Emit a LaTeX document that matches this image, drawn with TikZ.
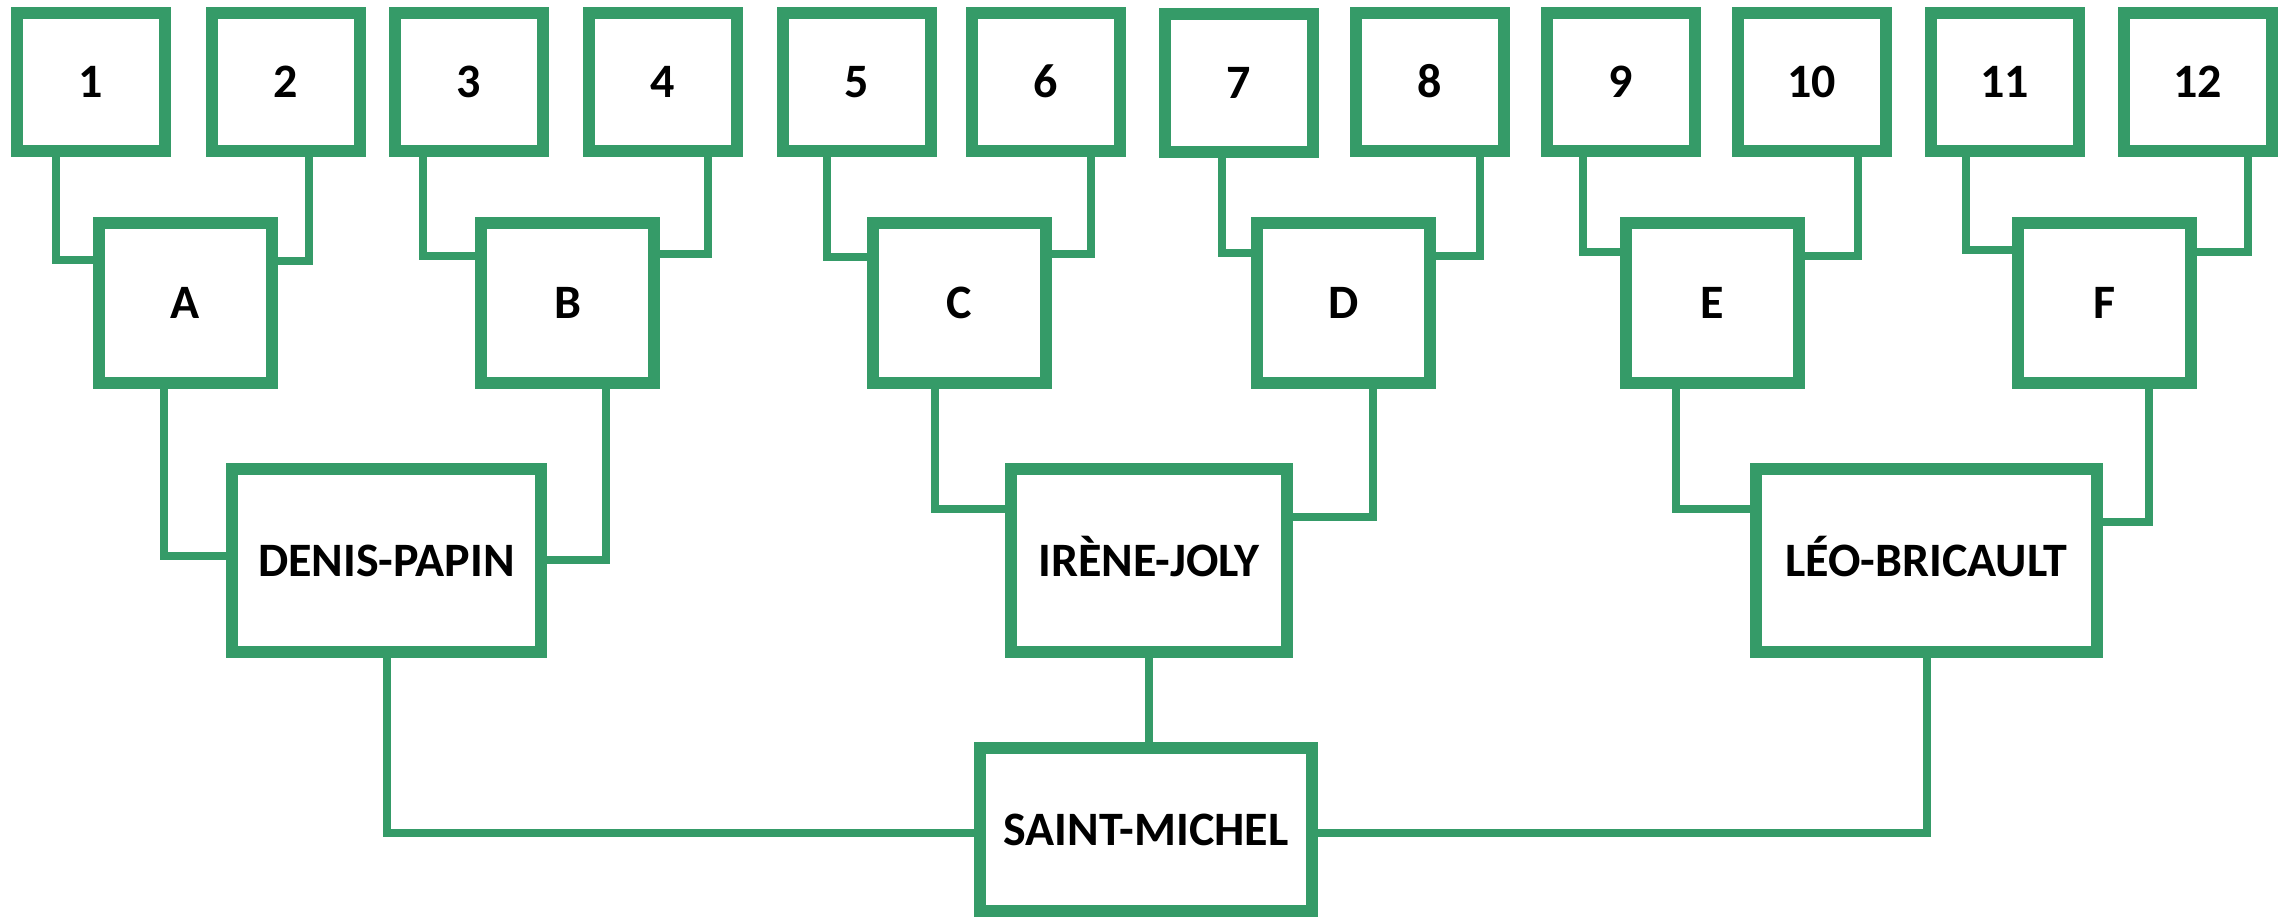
\documentclass[tikz,border=0pt]{standalone}
\usepackage{fontspec}
\setmainfont{Carlito}
\usetikzlibrary{backgrounds}
\definecolor{grn}{RGB}{53,155,104}
\begin{document}
\begin{tikzpicture}[x=0.5pt,y=-0.5pt,
  box/.style={draw=grn,line width=6pt,fill=white,inner sep=0pt,outer sep=0pt,
    font=\fontsize{24}{28}\selectfont\bfseries,text height=15.5pt,text depth=0pt},
  topbox/.style={box,minimum width=74pt,minimum height=69pt},
  midbox/.style={box,minimum width=86.5pt,minimum height=80pt},
  conn/.style={draw=grn,line width=4pt}]
\useasboundingbox (0,0) rectangle (2288,921);
% top row
\node[topbox] (n1) at (91,82) {1};
\node[topbox] (n2) at (285.5,82) {2};
\node[topbox] (n3) at (469,82) {3};
\node[topbox] (n4) at (662.5,82) {4};
\node[topbox] (n5) at (856.5,82) {5};
\node[topbox] (n6) at (1045.5,82) {6};
\node[topbox] (n7) at (1238.5,83) {7};
\node[topbox] (n8) at (1430,82) {8};
\node[topbox] (n9) at (1620.5,82) {9};
\node[topbox] (n10) at (1811.5,82) {10};
\node[topbox] (n11) at (2004.5,82) {11};
\node[topbox] (n12) at (2197.5,82) {12};
% second row
\node[midbox] (A) at (185.5,303) {A};
\node[midbox] (B) at (567.5,303) {B};
\node[midbox] (C) at (959.5,303) {C};
\node[midbox] (D) at (1343.5,303) {D};
\node[midbox] (E) at (1712.5,303) {E};
\node[midbox] (F) at (2104.5,303) {F};
% third row
\node[box,minimum width=154.5pt,minimum height=91.5pt] (dp) at (386.5,560.5) {DENIS-PAPIN};
\node[box,minimum width=138pt,minimum height=91.5pt] (ij) at (1149,560.5) {IRÈNE-JOLY};
\node[box,minimum width=170.5pt,minimum height=91.5pt] (lb) at (1926.5,560.5) {LÉO-BRICAULT};
% root
\node[box,minimum width=166pt,minimum height=81.5pt] (sm) at (1146,829.5) {SAINT-MICHEL};
\begin{scope}[on background layer]
\draw[conn] (n1.south -| 55.5,0) |- (A.west |- 0,260);
\draw[conn] (n2.south -| 309,0) |- (A.east |- 0,261);
\draw[conn] (n3.south -| 423,0) |- (B.west |- 0,256);
\draw[conn] (n4.south -| 708,0) |- (B.east |- 0,254);
\draw[conn] (n5.south -| 827,0) |- (C.west |- 0,257);
\draw[conn] (n6.south -| 1091,0) |- (C.east |- 0,254);
\draw[conn] (n7.south -| 1222,0) |- (D.west |- 0,253);
\draw[conn] (n8.south -| 1480,0) |- (D.east |- 0,256);
\draw[conn] (n9.south -| 1583,0) |- (E.west |- 0,252);
\draw[conn] (n10.south -| 1858,0) |- (E.east |- 0,256);
\draw[conn] (n11.south -| 1966,0) |- (F.west |- 0,250);
\draw[conn] (n12.south -| 2248,0) |- (F.east |- 0,252);
\draw[conn] (A.south -| 164,0) |- (dp.west |- 0,556);
\draw[conn] (B.south -| 606,0) |- (dp.east |- 0,560);
\draw[conn] (C.south -| 935,0) |- (ij.west |- 0,509);
\draw[conn] (D.south -| 1373,0) |- (ij.east |- 0,517);
\draw[conn] (E.south -| 1676,0) |- (lb.west |- 0,509);
\draw[conn] (F.south -| 2149,0) |- (lb.east |- 0,522);
\draw[conn] (dp.south) |- (sm.west |- 0,833);
\draw[conn] (ij.south) -- (ij.south |- sm.north);
\draw[conn] (lb.south) |- (sm.east |- 0,833);
\end{scope}
\end{tikzpicture}
\end{document}
